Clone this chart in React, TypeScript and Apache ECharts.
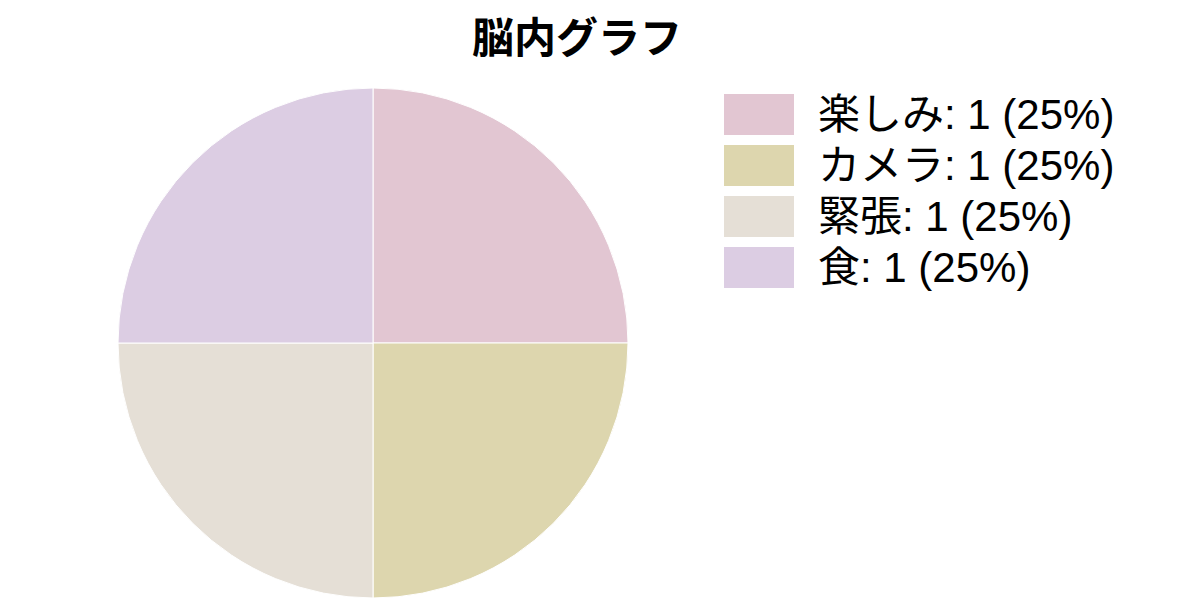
import { useEffect, useRef } from 'react';
import * as echarts from 'echarts';

const TITLE = '脳内グラフ';
const NAMES = ['楽しみ', 'カメラ', '緊張', '食'];
const VALUES = [1, 1, 1, 1];
const COLORS = ['#e2c6d2', '#ddd6ae', '#e5dfd6', '#dccde3'];

const FONT = '"Liberation Sans", "Noto Sans CJK JP", sans-serif';

export default function App() {
  const ref = useRef<HTMLDivElement>(null);

  useEffect(() => {
    if (!ref.current) return;
    const chart = echarts.init(ref.current, undefined, { renderer: 'svg' });
    const total = VALUES.reduce((a, b) => a + b, 0);
    const labels: Record<string, string> = {};
    NAMES.forEach((n, i) => {
      labels[n] = `${n}: ${VALUES[i]} (${Math.round((VALUES[i] / total) * 100)}%)`;
    });

    chart.setOption({
      animation: false,
      backgroundColor: '#ffffff',
      color: COLORS,
      title: {
        text: TITLE,
        left: 577,
        top: 17,
        padding: 0,
        textAlign: 'center',
        textStyle: { fontSize: 42, fontWeight: 'bold', color: '#000', fontFamily: FONT },
      },
      legend: {
        orient: 'vertical',
        left: 722,
        top: 92,
        padding: 0,
        itemWidth: 72,
        itemHeight: 43,
        itemGap: 6,
        icon: 'rect',
        selectedMode: false,
        formatter: (name: string) => labels[name],
        textStyle: { fontSize: 42, color: '#000', fontFamily: FONT, padding: [0, 0, 0, 18] },
        data: NAMES,
      },
      series: [
        {
          type: 'pie',
          center: [373, 343],
          radius: 255,
          startAngle: 90,
          clockwise: true,
          label: { show: false },
          labelLine: { show: false },
          emphasis: { disabled: true },
          itemStyle: { borderColor: '#ffffff', borderWidth: 1 },
          data: NAMES.map((n, i) => ({ name: n, value: VALUES[i] })),
        },
      ],
    });

    return () => chart.dispose();
  }, []);

  return (
    <div
      ref={ref}
      style={{ position: 'absolute', left: 0, top: 0, width: 1200, height: 600 }}
    />
  );
}
